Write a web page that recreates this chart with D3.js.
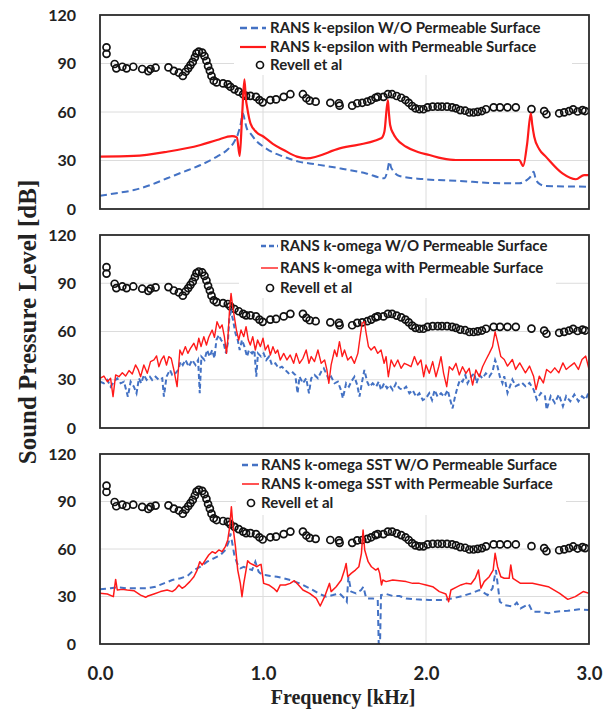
<!DOCTYPE html>
<html><head><meta charset="utf-8">
<script src="https://cdn.jsdelivr.net/npm/d3@7"></script>
<style>body{margin:0;background:#fff}svg{display:block}</style>
</head><body>
<script>
// ---------- DATA ----------
const freqTicks = [0, 1, 2, 3];
const freqTickLabels = ["0.0", "1.0", "2.0", "3.0"];
const splTicks = [0, 30, 60, 90, 120];

// Revell et al (experiment) [kHz, dB]
const revell = [[0.04,100],[0.04,96],[0.09,89.7],[0.10,87],[0.137,88],[0.163,87],[0.204,88],[0.259,86.6],[0.296,85.3],[0.31,86.6],[0.341,87.4],[0.42,87.6],[0.453,85.5],[0.484,84.3],[0.508,82.3],[0.525,84.9],[0.541,87],[0.555,89],[0.569,91],[0.582,93.8],[0.592,96.3],[0.606,97.3],[0.627,96.7],[0.641,94.6],[0.653,91.7],[0.663,88.4],[0.674,85.5],[0.684,82.3],[0.698,79.4],[0.715,78.3],[0.755,77.7],[0.784,77.1],[0.80,75.6],[0.825,74],[0.851,72.6],[0.878,71],[0.896,70],[0.923,70],[0.957,69.4],[0.978,67.4],[0.998,66],[1.045,67.4],[1.08,67.8],[1.127,69.4],[1.168,71],[1.245,71],[1.266,68.5],[1.286,67],[1.323,66.4],[1.413,65.7],[1.466,65.4],[1.47,63.9],[1.547,63.9],[1.578,65.4],[1.609,65.7],[1.64,66.4],[1.664,67.4],[1.69,68.8],[1.704,69.4],[1.739,69.4],[1.766,71],[1.792,71],[1.82,69.9],[1.848,68.8],[1.874,67.4],[1.894,65.7],[1.915,63.7],[1.935,62.3],[1.96,61.7],[1.984,61.7],[2.01,62.9],[2.041,63.3],[2.072,63.3],[2.098,63.3],[2.129,63.3],[2.16,62.9],[2.184,62.3],[2.21,61.2],[2.24,60.8],[2.266,59.7],[2.292,59.7],[2.317,60.1],[2.343,60.6],[2.368,61.7],[2.415,62.9],[2.454,62.9],[2.50,62.9],[2.551,62.9],[2.647,61.8],[2.725,60.6],[2.739,58.6],[2.817,59.2],[2.848,59.8],[2.878,60.6],[2.903,61.6],[2.93,60.3],[2.96,61.2],[2.976,60.6]];

// k-epsilon
const kEpsWithout = [[0,8.2],[0.1,9.8],[0.208,11.7],[0.3,14.5],[0.412,19],[0.5,22.5],[0.617,27.2],[0.718,32.4],[0.78,36.5],[0.82,41],[0.845,46],[0.862,52],[0.877,59],[0.888,55],[0.9,50],[0.923,46.8],[0.96,42],[1.004,38.5],[1.06,35],[1.127,32.4],[1.218,29.3],[1.286,28.2],[1.47,25.2],[1.633,22],[1.745,19],[1.762,23],[1.776,29.3],[1.785,26],[1.796,24],[1.837,20.4],[1.98,18.5],[2.184,17.5],[2.468,15.9],[2.572,15.9],[2.62,18],[2.645,20.5],[2.66,23],[2.672,19],[2.69,16],[2.735,14.2],[3.0,13.8]];
const kEpsWith = [[0,32.4],[0.208,32.8],[0.412,35.4],[0.617,39.6],[0.718,42.7],[0.81,45.1],[0.84,44.3],[0.857,32.8],[0.872,58],[0.886,80.2],[0.895,68],[0.902,63.3],[0.923,53],[0.96,47.5],[1.004,44.7],[1.06,40.3],[1.127,36.5],[1.208,32.4],[1.266,31.3],[1.47,37.5],[1.725,43.7],[1.745,48],[1.766,67.4],[1.772,60],[1.78,52],[1.8,46.5],[1.817,43.7],[1.878,38.5],[1.95,35.3],[2.021,33.4],[2.1,31.3],[2.184,30.3],[2.47,30.3],[2.572,30.3],[2.596,26.6],[2.62,40],[2.643,59.2],[2.652,52],[2.664,44.7],[2.695,37],[2.735,32.4],[2.837,22],[2.92,18.4],[2.97,21],[3.0,21]];

// k-omega
const kOmgWithout = [[0,28.8],[0.024,27.8],[0.045,29.9],[0.065,25.7],[0.086,28.8],[0.106,30.9],[0.127,27.8],[0.147,28.8],[0.171,19.5],[0.188,28.8],[0.208,25.7],[0.224,21.6],[0.239,30.9],[0.253,27.8],[0.269,33],[0.286,29.9],[0.306,31.9],[0.32,29.9],[0.341,31.9],[0.361,29.9],[0.382,30.9],[0.392,19.5],[0.408,31.9],[0.429,36.1],[0.443,33],[0.463,34],[0.48,36.1],[0.494,41.3],[0.508,39.2],[0.524,42.3],[0.545,38.1],[0.565,42.3],[0.586,39.2],[0.602,42.3],[0.612,21.6],[0.622,44.4],[0.641,42.3],[0.657,48.5],[0.673,44.4],[0.688,48.5],[0.702,43.3],[0.714,54.7],[0.729,57.8],[0.743,54.7],[0.759,52.7],[0.773,46.4],[0.784,52.7],[0.794,69.2],[0.804,72.3],[0.816,67.2],[0.831,58.9],[0.845,54.7],[0.857,48.5],[0.871,54.7],[0.886,50.6],[0.902,44.4],[0.914,48.5],[0.933,46.4],[0.947,48.5],[0.959,31.9],[0.969,46.4],[0.988,44.4],[1.004,46.4],[1.02,42.3],[1.037,44.4],[1.055,39.2],[1.076,40.2],[1.096,37.1],[1.116,38.1],[1.137,36.1],[1.157,34],[1.178,35],[1.198,33],[1.212,21.6],[1.224,31.9],[1.245,27.8],[1.265,30.9],[1.282,21.6],[1.296,30.9],[1.316,33],[1.337,30.9],[1.357,35],[1.373,37.1],[1.392,33],[1.404,29.9],[1.418,31.9],[1.439,27.8],[1.459,28.8],[1.478,23.6],[1.49,18.5],[1.51,27.8],[1.527,25.7],[1.541,28.8],[1.561,31.9],[1.578,26.7],[1.592,19.5],[1.608,28.8],[1.622,36.1],[1.639,28.8],[1.653,25.7],[1.673,27.8],[1.694,25.7],[1.71,28.8],[1.724,23.6],[1.743,27.8],[1.761,24.7],[1.776,26.7],[1.796,23.6],[1.816,27.8],[1.837,24.7],[1.857,23.6],[1.878,25.7],[1.898,21.6],[1.918,23.6],[1.939,19.5],[1.959,21.6],[1.98,17.4],[2.0,18.5],[2.02,21.6],[2.037,17.4],[2.053,23.6],[2.071,19.5],[2.092,21.6],[2.112,19.5],[2.133,23.6],[2.149,17.4],[2.163,12.2],[2.178,19.5],[2.194,25.7],[2.208,29.9],[2.224,28.8],[2.241,33],[2.255,27.8],[2.276,31.9],[2.296,34],[2.31,27.8],[2.327,33],[2.347,30.9],[2.367,34],[2.388,31.9],[2.408,35],[2.424,42.3],[2.439,38.1],[2.453,31.9],[2.469,27.8],[2.48,32.2],[2.5,21.8],[2.53,30.1],[2.55,26],[2.59,28],[2.61,26],[2.635,28],[2.66,23.9],[2.68,17.7],[2.705,21.8],[2.73,19.8],[2.74,11.4],[2.765,19.8],[2.79,15.6],[2.815,20.8],[2.84,13.5],[2.86,19.8],[2.885,16.6],[2.91,20.8],[2.935,16.6],[2.957,19.8],[2.98,17.7],[3.0,22.9]];
const kOmgWith = [[0,30.9],[0.024,32.3],[0.045,28.8],[0.065,30.9],[0.08,19.5],[0.096,33],[0.116,31.9],[0.137,34.4],[0.157,32.3],[0.178,35.7],[0.198,33.6],[0.218,39.2],[0.235,36.1],[0.249,31.9],[0.269,39.2],[0.29,34],[0.31,41.3],[0.331,42.3],[0.347,44.8],[0.361,38.1],[0.376,42.3],[0.392,44.8],[0.408,39.2],[0.422,44.4],[0.437,43.3],[0.453,36.1],[0.473,25.7],[0.49,48.5],[0.504,45.4],[0.524,50.6],[0.539,46.4],[0.555,49.5],[0.576,52.7],[0.592,48.5],[0.606,55.8],[0.62,50.6],[0.637,56.8],[0.653,51.6],[0.667,56.4],[0.688,60.9],[0.702,56.4],[0.718,66.1],[0.735,62],[0.749,64.1],[0.763,56.8],[0.776,46.4],[0.784,54.7],[0.794,72.3],[0.804,83.7],[0.814,75.5],[0.824,69.2],[0.837,60.9],[0.851,54.7],[0.865,60.9],[0.882,56.8],[0.896,63],[0.91,54.7],[0.922,51.6],[0.937,56.8],[0.953,48.5],[0.967,54.7],[0.984,50.6],[1.0,55.8],[1.014,48.5],[1.031,51.6],[1.045,45.4],[1.061,50.6],[1.076,46.4],[1.09,48.5],[1.106,42.3],[1.127,46.4],[1.147,42.3],[1.167,45.4],[1.188,40.2],[1.204,46.4],[1.224,40.2],[1.245,43.3],[1.265,48.5],[1.282,40.2],[1.296,44.4],[1.316,41.3],[1.337,48.5],[1.357,40.2],[1.378,42.3],[1.392,36.1],[1.404,27.8],[1.418,39.2],[1.439,48.5],[1.453,44.4],[1.469,53.7],[1.486,44.4],[1.5,48.5],[1.52,42.3],[1.541,44.4],[1.561,40.2],[1.582,46.4],[1.596,56.8],[1.608,65.1],[1.622,66.1],[1.633,58.9],[1.647,50.6],[1.663,48.5],[1.684,50.6],[1.704,46.4],[1.724,48.5],[1.743,40.2],[1.755,44.4],[1.769,31.9],[1.786,42.3],[1.806,38.1],[1.827,42.3],[1.847,37.1],[1.867,40.2],[1.888,39.2],[1.908,38.1],[1.929,44.4],[1.949,39.2],[1.969,42.3],[1.986,31.9],[2.0,39.2],[2.02,34],[2.041,41.3],[2.061,31.9],[2.078,38.1],[2.092,44.4],[2.108,34],[2.127,25.7],[2.143,38.1],[2.163,36.1],[2.184,40.2],[2.204,33],[2.224,38.1],[2.245,34],[2.265,37.1],[2.286,26.7],[2.306,36.1],[2.327,31.9],[2.347,38.1],[2.367,42.3],[2.388,46.4],[2.408,50.6],[2.424,59.9],[2.439,53.7],[2.459,44.4],[2.48,42.6],[2.5,38.5],[2.53,42.6],[2.55,36.4],[2.575,40.5],[2.61,34.3],[2.635,38.5],[2.66,32.2],[2.675,23.9],[2.695,32.2],[2.72,28],[2.74,36.4],[2.765,34.3],[2.79,37.4],[2.815,34.3],[2.84,40.5],[2.86,36.4],[2.885,38.5],[2.91,40.5],[2.935,36.4],[2.957,42.6],[2.98,44.7],[3.0,36.4]];

// k-omega SST
const sstWithout = [[0,34.5],[0.065,35.2],[0.106,35.8],[0.167,35.2],[0.229,35.2],[0.29,35.2],[0.341,36.2],[0.392,38.3],[0.443,40.4],[0.494,41.5],[0.535,42.9],[0.576,46.7],[0.616,48.8],[0.657,52],[0.698,54.1],[0.739,56.2],[0.769,59.4],[0.79,64.6],[0.80,69.9],[0.81,64.6],[0.824,56.2],[0.841,50.9],[0.861,47.8],[0.882,48.8],[0.902,47.8],[0.933,46.7],[0.953,52],[0.973,45.7],[0.994,43.6],[1.014,43.6],[1.045,42.9],[1.086,42.5],[1.127,41.5],[1.167,40.4],[1.224,38.3],[1.286,35.2],[1.347,31.6],[1.388,29.9],[1.429,30.9],[1.469,32],[1.5,28.8],[1.514,26.7],[1.524,42.5],[1.541,33.1],[1.571,32],[1.602,34.1],[1.616,36.2],[1.633,28.8],[1.673,28.8],[1.704,27.8],[1.71,0],[1.718,0],[1.724,30.9],[1.755,31.6],[1.796,30.3],[1.837,30.3],[1.878,28.8],[1.939,28.2],[2.02,27.8],[2.102,27.8],[2.163,28.8],[2.224,30.3],[2.276,32],[2.327,34.1],[2.378,30.9],[2.408,35.2],[2.429,46.7],[2.439,38.3],[2.453,26.7],[2.48,24.6],[2.533,23.6],[2.557,26.1],[2.58,22.5],[2.63,25.3],[2.653,20.4],[2.70,20.4],[2.75,19.4],[2.796,20.4],[2.87,21],[2.94,21.9],[3.0,21.5]];
const sstWith = [[0,32],[0.045,31.6],[0.082,29.9],[0.096,40.8],[0.106,34.1],[0.137,34.5],[0.167,34.1],[0.208,33.7],[0.249,30.9],[0.28,29.5],[0.294,30.3],[0.331,31.6],[0.371,33.1],[0.412,34.1],[0.443,33.1],[0.463,34.5],[0.484,37.3],[0.504,35.2],[0.524,36.6],[0.551,39.4],[0.576,42.5],[0.596,46.7],[0.612,52],[0.627,49.9],[0.647,53.1],[0.667,56.2],[0.688,58.3],[0.708,57.3],[0.729,59.4],[0.749,58.3],[0.769,61.5],[0.784,65.7],[0.796,74.1],[0.806,86.7],[0.816,74.1],[0.831,61.5],[0.845,46.7],[0.861,38.3],[0.871,29.9],[0.882,38.3],[0.896,46.7],[0.906,52.6],[0.922,50.9],[0.943,49.9],[0.963,48.8],[0.978,49.9],[0.988,50.3],[1.004,38.3],[1.035,37.3],[1.065,35.2],[1.086,33.1],[1.106,37.3],[1.137,37.3],[1.167,38.3],[1.192,40],[1.218,37.3],[1.245,34.1],[1.286,32],[1.327,28.8],[1.351,24],[1.378,29.9],[1.408,38.3],[1.418,33.1],[1.449,36.2],[1.48,40.4],[1.5,46.7],[1.51,50.9],[1.52,42.5],[1.541,44.6],[1.567,46.7],[1.588,48.8],[1.604,57.3],[1.614,72],[1.624,59.4],[1.645,52],[1.665,48.8],[1.692,46.7],[1.706,47.8],[1.716,44.6],[1.727,37.3],[1.735,40.4],[1.755,39.4],[1.796,40.4],[1.837,40],[1.878,39.4],[1.918,38.3],[1.959,38.3],[2.0,37.3],[2.041,36.2],[2.082,33.1],[2.122,31.6],[2.139,26.7],[2.153,34.1],[2.184,35.8],[2.214,37.3],[2.245,38.3],[2.276,37.9],[2.302,41.5],[2.322,46.7],[2.337,35.2],[2.357,39.4],[2.388,42.5],[2.412,46.7],[2.424,57.3],[2.439,48.8],[2.459,42.5],[2.48,41.5],[2.51,41.5],[2.52,49.9],[2.533,41.5],[2.58,38.3],[2.653,38.3],[2.75,36.2],[2.82,32],[2.87,28.2],[2.916,29.9],[2.964,33.1],[3.0,32]];

const legendTop = ["RANS k-epsilon W/O Permeable Surface", "RANS k-epsilon with Permeable Surface", "Revell et al"];
const legendMid = ["RANS k-omega W/O Permeable Surface", "RANS k-omega with Permeable Surface", "Revell et al"];
const legendBot = ["RANS k-omega SST W/O Permeable Surface", "RANS k-omega SST with Permeable Surface", "Revell et al"];

// ---------- DRAW ----------
const W = 613, H = 711;
const svg = d3.select("body").append("svg").attr("width", W).attr("height", H);
const BLUE = "#4472C4", RED = "#FF1A1A";
const X0 = 100, X1 = 589;

const panels = [
  {top: 15, bottom: 209, wo: kEpsWithout, wi: kEpsWith, leg: legendTop, smooth: true,
   redW: 2.2, blueW: 2, dash: "7,4",
   box: [234, 15, 572, 75], legRows: [28, 47, 65], dashX: [240, 266], circX: 260, textX: 270, fs: 15},
  {top: 235, bottom: 428, wo: kOmgWithout, wi: kOmgWith, leg: legendMid, smooth: false,
   redW: 1.4, blueW: 2, dash: "5,3",
   box: [239, 235, 556, 298], legRows: [246, 268, 288], dashX: [261, 278], circX: 270, textX: 280, fs: 15},
  {top: 454, bottom: 644, wo: sstWithout, wi: sstWith, leg: legendBot, smooth: false,
   redW: 1.5, blueW: 2, dash: "6,4",
   box: [236, 454, 566, 515], legRows: [465, 484, 503], dashX: [242, 259], circX: 251, textX: 261, fs: 15}
];

const x = d3.scaleLinear().domain([0, 3]).range([X0, X1]);
const tickFont = "Lato, 'Liberation Sans', sans-serif";

panels.forEach((p, i) => {
  const y = d3.scaleLinear().domain([0, 120]).range([p.bottom, p.top]);
  const g = svg.append("g");

  g.append("g").selectAll("line").data([30, 60, 90]).join("line")
    .attr("x1", X0).attr("x2", X1).attr("y1", d => y(d)).attr("y2", d => y(d))
    .attr("stroke", "#dcdcdc").attr("stroke-width", 1);
  g.append("g").selectAll("line").data([1, 2]).join("line")
    .attr("x1", d => x(d)).attr("x2", d => x(d)).attr("y1", p.top).attr("y2", p.bottom)
    .attr("stroke", "#dcdcdc").attr("stroke-width", 1);

  g.append("rect").attr("x", p.box[0]).attr("y", p.box[1])
    .attr("width", p.box[2] - p.box[0]).attr("height", p.box[3] - p.box[1]).attr("fill", "#fff");

  const yAxis = d3.axisLeft(y).tickValues(splTicks).tickSize(0).tickPadding(24);
  const ya = g.append("g").attr("transform", `translate(${X0},0)`).call(yAxis);
  ya.select(".domain").remove();
  ya.selectAll("text").attr("font-family", tickFont).attr("font-weight", "bold")
    .attr("font-size", 16).attr("fill", "#222");

  const clipId = "clip" + i;
  svg.append("clipPath").attr("id", clipId).append("rect")
    .attr("x", X0).attr("y", p.top - 1).attr("width", X1 - X0).attr("height", p.bottom - p.top + 1);

  const line = d3.line().x(d => x(d[0])).y(d => y(d[1]));
  if (p.smooth) line.curve(d3.curveMonotoneX);
  const plot = g.append("g").attr("clip-path", `url(#${clipId})`);

  plot.append("g").selectAll("circle").data(revell).join("circle")
    .attr("cx", d => x(d[0])).attr("cy", d => y(d[1])).attr("r", 3.5)
    .attr("fill", "none").attr("stroke", "#111").attr("stroke-width", 1.7);

  plot.append("path").datum(p.wo).attr("d", line).attr("fill", "none")
    .attr("stroke", BLUE).attr("stroke-width", p.blueW).attr("stroke-dasharray", p.dash);
  plot.append("path").datum(p.wi).attr("d", line).attr("fill", "none")
    .attr("stroke", RED).attr("stroke-width", p.redW).attr("stroke-linejoin", "round");

  g.append("rect").attr("x", X0).attr("y", p.top).attr("width", X1 - X0).attr("height", p.bottom - p.top)
    .attr("fill", "none").attr("stroke", "#2b2b2b").attr("stroke-width", 1.8);

  const lg = g.append("g");
  lg.append("line").attr("x1", p.dashX[0]).attr("x2", p.dashX[1])
    .attr("y1", p.legRows[0]).attr("y2", p.legRows[0])
    .attr("stroke", BLUE).attr("stroke-width", p.blueW + 0.3).attr("stroke-dasharray", p.dash);
  lg.append("line").attr("x1", p.dashX[0]).attr("x2", p.dashX[1])
    .attr("y1", p.legRows[1]).attr("y2", p.legRows[1])
    .attr("stroke", RED).attr("stroke-width", p.redW);
  lg.append("circle").attr("cx", p.circX).attr("cy", p.legRows[2]).attr("r", 3.5)
    .attr("fill", "none").attr("stroke", "#111").attr("stroke-width", 1.7);
  lg.selectAll("text").data(p.leg).join("text")
    .attr("x", p.textX).attr("y", (d, k) => p.legRows[k]).attr("dy", "0.35em")
    .attr("font-family", tickFont).attr("font-weight", "bold").attr("font-size", p.fs)
    .attr("fill", "#222").text(d => d);

  if (i === 2) {
    const xAxis = d3.axisBottom(x).tickValues(freqTicks).tickSize(0).tickPadding(23)
      .tickFormat((d, k) => freqTickLabels[k]);
    const xa = g.append("g").attr("transform", `translate(0,${p.bottom})`).call(xAxis);
    xa.select(".domain").remove();
    xa.selectAll("text").attr("font-family", tickFont).attr("font-weight", "bold")
      .attr("font-size", 18.5).attr("fill", "#222");
  }
});

svg.append("text").attr("x", 343).attr("y", 704).attr("text-anchor", "middle")
  .attr("font-family", "'Liberation Serif', 'DejaVu Serif', serif").attr("font-weight", "bold")
  .attr("font-size", 20).attr("fill", "#222").text("Frequency [kHz]");
svg.append("text").attr("transform", "translate(36,322) rotate(-90)").attr("text-anchor", "middle")
  .attr("font-family", "'Liberation Serif', 'DejaVu Serif', serif").attr("font-weight", "bold")
  .attr("font-size", 25).attr("fill", "#222").text("Sound Pressure Level [dB]");
</script>
</body></html>
